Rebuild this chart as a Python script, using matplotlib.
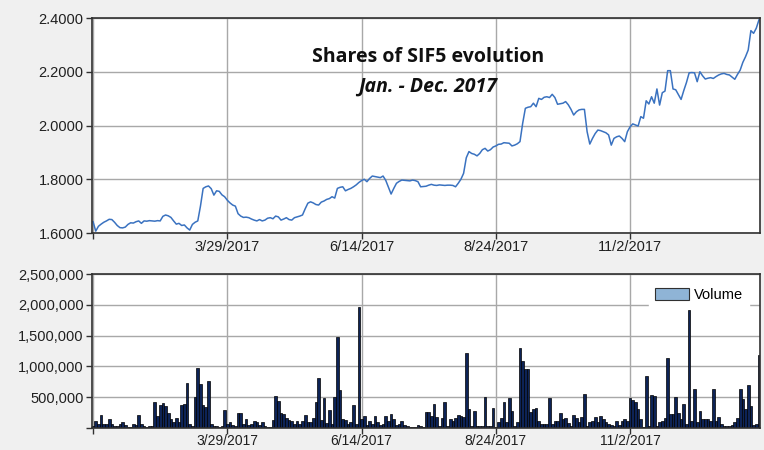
import matplotlib
matplotlib.use("Agg")
import matplotlib.pyplot as plt
from matplotlib.patches import Patch
from matplotlib.ticker import FuncFormatter, FixedLocator
import numpy as np

# ---- data (trading-day index based) ----
price = [
    1.642, 1.607, 1.625, 1.633, 1.640, 1.645, 1.651, 1.650, 1.640, 1.628,
    1.620, 1.619, 1.622, 1.632, 1.638, 1.637, 1.642, 1.645, 1.636, 1.645,
    1.644, 1.646, 1.645, 1.644, 1.646, 1.645, 1.662, 1.667, 1.664, 1.658,
    1.645, 1.633, 1.636, 1.628, 1.630, 1.619, 1.611, 1.632, 1.640, 1.645,
    1.700, 1.766, 1.772, 1.775, 1.765, 1.741, 1.757, 1.755, 1.742, 1.735,
    1.722, 1.712, 1.704, 1.700, 1.672, 1.663, 1.658, 1.659, 1.657, 1.652,
    1.648, 1.645, 1.650, 1.645, 1.648, 1.655, 1.657, 1.653, 1.663, 1.660,
    1.648, 1.652, 1.657, 1.650, 1.648, 1.657, 1.660, 1.663, 1.667, 1.690,
    1.711, 1.716, 1.712, 1.706, 1.704, 1.715, 1.719, 1.725, 1.728, 1.735,
    1.730, 1.766, 1.770, 1.772, 1.757, 1.762, 1.766, 1.772, 1.779, 1.788,
    1.795, 1.800, 1.791, 1.803, 1.812, 1.810, 1.808, 1.806, 1.812, 1.796,
    1.770, 1.745, 1.766, 1.785, 1.792, 1.797, 1.796, 1.795, 1.794, 1.797,
    1.795, 1.791, 1.772, 1.773, 1.774, 1.778, 1.781, 1.778, 1.777, 1.779,
    1.778, 1.777, 1.778, 1.778, 1.777, 1.772, 1.785, 1.800, 1.822, 1.880,
    1.903, 1.896, 1.893, 1.887, 1.896, 1.910, 1.915, 1.905, 1.910, 1.920,
    1.924, 1.930, 1.931, 1.936, 1.935, 1.934, 1.924, 1.927, 1.932, 1.940,
    2.008, 2.064, 2.068, 2.070, 2.083, 2.070, 2.101, 2.097, 2.105, 2.107,
    2.104, 2.116, 2.104, 2.079, 2.081, 2.083, 2.089, 2.077, 2.060, 2.039,
    2.051, 2.058, 2.060, 2.060, 1.977, 1.931, 1.952, 1.970, 1.983, 1.981,
    1.977, 1.973, 1.965, 1.927, 1.952, 1.958, 1.961, 1.952, 1.940, 1.977,
    1.995, 2.006, 2.002, 1.998, 2.033, 2.027, 2.092, 2.080, 2.107, 2.083,
    2.136, 2.076, 2.122, 2.128, 2.204, 2.204, 2.136, 2.133, 2.115, 2.097,
    2.130, 2.160, 2.196, 2.197, 2.196, 2.163, 2.200, 2.185, 2.173, 2.176,
    2.178, 2.175, 2.182, 2.188, 2.192, 2.194, 2.190, 2.188, 2.180, 2.172,
    2.190, 2.206, 2.235, 2.256, 2.281, 2.353, 2.343, 2.362, 2.393,
]

volume = [
    40000, 110000, 60000, 210000, 70000, 60000, 150000, 70000, 40000, 30000,
    60000, 90000, 50000, 20000, 15000, 70000, 50000, 210000, 60000, 30000,
    20000, 30000, 25000, 420000, 200000, 370000, 400000, 350000, 240000, 150000,
    100000, 160000, 95000, 380000, 390000, 730000, 70000, 40000, 500000, 980000,
    720000, 370000, 340000, 770000, 60000, 30000, 40000, 20000, 30000, 290000,
    60000, 100000, 50000, 40000, 250000, 250000, 60000, 150000, 50000, 70000,
    110000, 96000, 50000, 100000, 30000, 20000, 15000, 130000, 520000, 440000,
    240000, 230000, 160000, 130000, 110000, 70000, 120000, 70000, 110000, 210000,
    90000, 100000, 160000, 420000, 810000, 130000, 480000, 80000, 290000, 60000,
    500000, 1480000, 610000, 150000, 130000, 70000, 100000, 370000, 60000, 1960000,
    140000, 190000, 50000, 110000, 60000, 190000, 100000, 50000, 60000, 200000,
    110000, 220000, 150000, 50000, 60000, 110000, 50000, 30000, 20000, 10000,
    15000, 50000, 30000, 20000, 260000, 260000, 190000, 390000, 180000, 30000,
    160000, 430000, 30000, 140000, 110000, 160000, 210000, 190000, 180000, 1210000,
    310000, 30000, 270000, 40000, 30000, 30000, 510000, 30000, 40000, 330000,
    20000, 90000, 170000, 430000, 90000, 490000, 270000, 40000, 100000, 1300000,
    1090000, 960000, 950000, 260000, 310000, 330000, 120000, 70000, 70000, 70000,
    490000, 70000, 110000, 120000, 250000, 150000, 170000, 80000, 40000, 210000,
    160000, 90000, 180000, 550000, 40000, 100000, 110000, 180000, 100000, 190000,
    150000, 100000, 70000, 50000, 40000, 120000, 50000, 120000, 150000, 120000,
    480000, 460000, 420000, 310000, 150000, 20000, 840000, 40000, 540000, 520000,
    40000, 100000, 120000, 170000, 1140000, 230000, 230000, 500000, 250000, 150000,
    390000, 70000, 1910000, 120000, 630000, 100000, 280000, 140000, 150000, 150000,
    120000, 630000, 110000, 180000, 70000, 40000, 30000, 40000, 50000, 100000,
    170000, 630000, 470000, 310000, 690000, 360000, 50000, 60000, 1180000,
]

tick_positions = [0, 50, 100, 150, 200]
tick_labels = ["", "3/29/2017", "6/14/2017", "8/24/2017", "11/2/2017"]
price_ticks = [1.6, 1.8, 2.0, 2.2, 2.4]
volume_ticks = [0, 500000, 1000000, 1500000, 2000000, 2500000]
title_line1 = "Shares of SIF5 evolution"
title_line2 = "Jan. - Dec. 2017"

n = min(len(price), len(volume))
x = np.arange(n)

plt.rcParams["font.family"] = ["Liberation Sans", "DejaVu Sans"]

fig = plt.figure(figsize=(7.64, 4.5), dpi=100)
fig.patch.set_facecolor("#f0f0f0")

ax1 = fig.add_axes([0.1204, 0.4822, 0.8744, 0.4778])
ax2 = fig.add_axes([0.1204, 0.0489, 0.8744, 0.3422])

grid_c = "#a8a8a8"
for ax in (ax1, ax2):
    ax.set_facecolor("white")
    ax.set_xlim(-0.4, n - 0.6)
    ax.xaxis.set_major_locator(FixedLocator(tick_positions))
    ax.set_xticklabels(tick_labels)
    ax.grid(True, color=grid_c, linewidth=1.0)
    ax.set_axisbelow(True)
    for s in ax.spines.values():
        s.set_color("#303030")
        s.set_linewidth(1.2)
    ax.tick_params(axis="y", direction="out", length=4, width=1.0,
                   color="#303030", labelsize=10.5, labelcolor="#202020", pad=2)
    ax.tick_params(axis="x", direction="out", length=4, width=1.0,
                   color="#303030", labelsize=10.5, labelcolor="#202020", pad=1)

# price chart
ax1.plot(x, price[:n], color="#3a72c0", linewidth=1.1)
ax1.set_ylim(1.6, 2.4)
ax1.set_yticks(price_ticks)
ax1.yaxis.set_major_formatter(FuncFormatter(lambda v, p: f"{v:.4f}"))
ax1.text(0.503, 0.82, title_line1, transform=ax1.transAxes, ha="center", va="center",
         fontsize=14, fontweight="bold", family=["Open Sans", "DejaVu Sans"], color="#101010")
ax1.text(0.503, 0.68, title_line2, transform=ax1.transAxes, ha="center", va="center",
         fontsize=14, fontweight="bold", fontstyle="italic",
         family=["Open Sans", "DejaVu Sans"], color="#101010")

# volume chart
ax2.bar(x, volume[:n], width=1.0, color="#0d2356", edgecolor="#000000", linewidth=0.5)
ax2.set_ylim(0, 2500000)
ax2.set_yticks(volume_ticks)
ax2.yaxis.set_major_formatter(FuncFormatter(lambda v, p: "" if v == 0 else f"{int(v):,}"))
ax2.tick_params(axis="x", labelsize=10, pad=0)

leg = ax2.legend(handles=[Patch(facecolor="#8fb4d6", edgecolor="#303030", linewidth=0.8,
                                label="Volume")],
                 loc="upper right", bbox_to_anchor=(0.995, 0.995), frameon=True,
                 fontsize=10.5, handlelength=2.3, handleheight=0.9, borderpad=0.4,
                 handletextpad=0.4)
leg.get_frame().set_edgecolor("white")
leg.get_frame().set_facecolor("white")
leg.get_frame().set_alpha(1.0)
leg.get_frame().set_boxstyle("square", pad=0.0)

fig.savefig("out.png", dpi=100, facecolor=fig.get_facecolor())
